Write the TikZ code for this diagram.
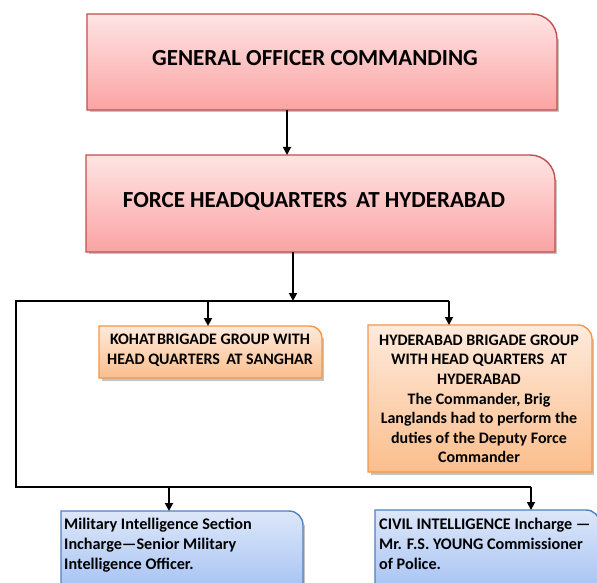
\documentclass[tikz,border=0pt]{standalone}
\usepackage{fontspec}
\setmainfont{Carlito}
\usetikzlibrary{arrows.meta,calc}
\definecolor{pinkline}{HTML}{C0504D}
\definecolor{pinktop}{HTML}{FFE4E4}
\definecolor{pinkbot}{HTML}{FBA3A3}
\definecolor{orline}{HTML}{F79646}
\definecolor{ortop}{HTML}{FEEADC}
\definecolor{orbot}{HTML}{FBBE8C}
\definecolor{blline}{HTML}{4F81BD}
\definecolor{bltop}{HTML}{DDE7F9}
\definecolor{blbot}{HTML}{A5C2F4}
\definecolor{shadowc}{HTML}{C4C4C4}
\tikzset{
  span/.style={inner sep=0pt, outer sep=0pt, draw=none},
  conn/.style={line width=1.8pt, line join=miter},
  arr/.style={conn, -{Triangle[length=8pt,width=8pt]}},
  pinkbox/.style={draw=pinkline, line width=1.4pt, top color=pinktop, bottom color=pinkbot},
  orbox/.style={draw=orline, line width=1.4pt, top color=ortop, bottom color=orbot},
  blbox/.style={draw=blline, line width=1.4pt, top color=bltop, bottom color=blbot},
  bigtext/.style={font=\fontsize{23}{27}\selectfont\bfseries, inner sep=0pt},
  smalltext/.style={font=\fontsize{16}{19.6}\selectfont\bfseries, inner sep=0pt, align=center},
  lefttext/.style={font=\fontsize{16.2}{20.3}\selectfont\bfseries, inner sep=0pt, align=left, anchor=west},
}
\newcommand\tabshape[3]{%
  \fill[shadowc] ($(#1.south west)+(3,-2.5)$) rectangle ($(#1.south east)+(2,0)$);
  \fill[shadowc] ($(#1.south east)+(0,-2.5)$) rectangle ($(#1.north east)+(2,-#2)$);
  \path[#3] (#1.south west) -- (#1.north west) -- ($(#1.north east)+(-#2,0)$)
     arc[start angle=90, end angle=0, radius=#2pt] -- (#1.south east) -- cycle;
}
\begin{document}
\begin{tikzpicture}[x=1pt,y=1pt]
\useasboundingbox (0,0) rectangle (597,582);
\clip (0,0) rectangle (597,582);
\fill[white] (0,0) rectangle (597,582);
% box spans
\node[span, minimum width=470pt, minimum height=96pt] (goc) at (322,520) {};
\node[span, minimum width=469pt, minimum height=97pt] (fhq) at (320.5,378.5) {};
\node[span, minimum width=223pt, minimum height=52pt] (kohat) at (210.5,230) {};
\node[span, minimum width=224pt, minimum height=147pt] (hyd) at (480,183.5) {};
\node[span, minimum width=242pt, minimum height=81pt] (mil) at (182,30.5) {};
\node[span, minimum width=225pt, minimum height=82pt] (civ) at (487.5,31) {};
% shapes
\tabshape{goc}{25}{pinkbox}
\tabshape{fhq}{25}{pinkbox}
\tabshape{kohat}{12}{orbox}
\tabshape{hyd}{14}{orbox}
\tabshape{mil}{14}{blbox}
\tabshape{civ}{14}{blbox}
% texts
\node[bigtext] (goc-t) at (315,524) {GENERAL OFFICER COMMANDING};
\node[bigtext] (fhq-t) at (314,381) {FORCE HEADQUARTERS\, AT HYDERABAD};
\node[smalltext] (kohat-t) at (210,232) {KOHAT\hspace{-2pt} BRIGADE GROUP WITH\\HEAD QUARTERS\, AT SANGHAR};
\node[smalltext] (hyd-t) at (479,183) {HYDERABAD BRIGADE GROUP\\WITH HEAD QUARTERS\, AT\\HYDERABAD\\The Commander, Brig\\Langlands had to perform the\\duties of the Deputy Force\\Commander};
\node[lefttext] (mil-t) at (64,37) {Military Intelligence Section\\Incharge—Senior Military\\Intelligence Officer.};
\node[lefttext] (civ-t) at (379,38) {CIVIL INTELLIGENCE Incharge —\\Mr. F.S. YOUNG Commissioner\\of Police.};
% connector coordinates
\coordinate (c1) at (287,0);
\coordinate (c2) at (293,0);
\coordinate (c3) at (208,0);
\coordinate (c4) at (169,0);
\coordinate (busL) at (16,281);
\coordinate (busR) at (449,281);
\coordinate (busBL) at (16,95);
\coordinate (busBR) at (531,95);
% connectors
\draw[arr] (c1 |- goc.south) -- (c1 |- fhq.north);
\draw[conn] (busR) -- (busL) -- (busBL) -- (busBR);
\draw[arr] (c2 |- fhq.south) -- (c2 |- busL);
\draw[arr] (c3 |- busL) -- (c3 |- kohat.north);
\draw[arr] (busR) -- (busR |- hyd.north);
\draw[arr] (c4 |- busBL) -- (c4 |- mil.north);
\draw[arr] (busBR) -- (busBR |- civ.north);
\end{tikzpicture}
\end{document}
